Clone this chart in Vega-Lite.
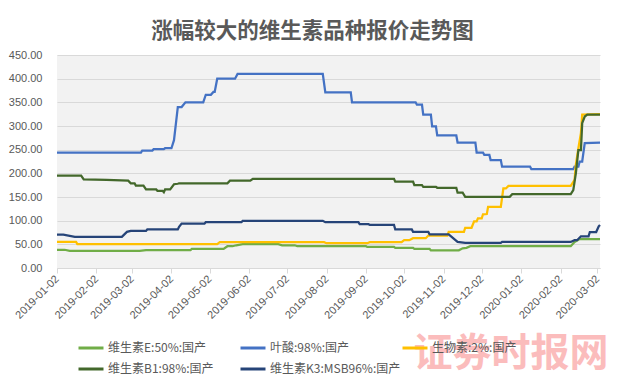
{
 "$schema": "https://vega.github.io/schema/vega-lite/v6.json",
 "width": 543, "height": 213,
 "autosize": "none",
 "padding": {"left": 57, "top": 55, "right": 25, "bottom": 119},
 "background": "white",
 "title": {"text": "涨幅较大的维生素品种报价走势图", "font": "Noto Sans CJK SC", "fontSize": 21.5, "fontWeight": "bold", "color": "#595959", "anchor": "middle", "frame": "group", "dx": -16, "offset": 7},
 "datasets": {
  "E": [
   {"d":"2019-01-02","v":38.5},{"d":"2019-01-08","v":38.5},{"d":"2019-01-12","v":36},{"d":"2019-03-08","v":36},{"d":"2019-03-13","v":38},{"d":"2019-04-17","v":38},{"d":"2019-04-18","v":40.3},{"d":"2019-05-13","v":40.3},{"d":"2019-05-16","v":46},{"d":"2019-05-20","v":46},{"d":"2019-05-23","v":48},{"d":"2019-05-28","v":50.5},{"d":"2019-06-25","v":50.5},{"d":"2019-06-28","v":48},{"d":"2019-07-08","v":48},{"d":"2019-07-10","v":46},{"d":"2019-09-02","v":46},{"d":"2019-09-03","v":44.5},{"d":"2019-09-24","v":44.5},{"d":"2019-09-25","v":42.4},{"d":"2019-10-09","v":42.4},{"d":"2019-10-10","v":40.3},{"d":"2019-10-22","v":40.3},{"d":"2019-10-23","v":37.5},{"d":"2019-11-14","v":37.5},{"d":"2019-11-17","v":41.5},{"d":"2019-11-20","v":42.5},{"d":"2019-11-23","v":46},{"d":"2020-02-10","v":46},{"d":"2020-02-13","v":55},{"d":"2020-02-17","v":61},{"d":"2020-03-04","v":61}
  ],
  "FA": [
   {"d":"2019-01-02","v":244},{"d":"2019-03-09","v":244},{"d":"2019-03-10","v":248},{"d":"2019-03-18","v":248},{"d":"2019-03-19","v":251},{"d":"2019-03-27","v":251},{"d":"2019-03-28","v":253},{"d":"2019-04-02","v":253},{"d":"2019-04-04","v":270},{"d":"2019-04-07","v":340},{"d":"2019-04-10","v":340},{"d":"2019-04-13","v":350},{"d":"2019-04-27","v":350},{"d":"2019-04-29","v":366},{"d":"2019-05-03","v":366},{"d":"2019-05-05","v":372},{"d":"2019-05-06","v":372},{"d":"2019-05-08","v":400},{"d":"2019-05-22","v":400},{"d":"2019-05-24","v":410},{"d":"2019-07-30","v":410},{"d":"2019-08-01","v":371},{"d":"2019-08-21","v":371},{"d":"2019-08-22","v":350},{"d":"2019-10-11","v":350},{"d":"2019-10-12","v":345},{"d":"2019-10-16","v":345},{"d":"2019-10-17","v":324},{"d":"2019-10-23","v":324},{"d":"2019-10-24","v":299},{"d":"2019-10-27","v":299},{"d":"2019-10-28","v":280},{"d":"2019-11-12","v":280},{"d":"2019-11-13","v":265},{"d":"2019-11-27","v":265},{"d":"2019-11-28","v":244},{"d":"2019-12-03","v":244},{"d":"2019-12-04","v":239},{"d":"2019-12-08","v":239},{"d":"2019-12-09","v":228},{"d":"2019-12-17","v":228},{"d":"2019-12-18","v":214},{"d":"2020-01-09","v":214},{"d":"2020-01-10","v":209},{"d":"2020-02-12","v":209},{"d":"2020-02-13","v":214},{"d":"2020-02-16","v":214},{"d":"2020-02-17","v":225},{"d":"2020-02-19","v":225},{"d":"2020-02-21","v":264},{"d":"2020-03-04","v":265}
  ],
  "BT": [
   {"d":"2019-01-02","v":55},{"d":"2019-01-17","v":55},{"d":"2019-01-18","v":50.5},{"d":"2019-05-08","v":50.5},{"d":"2019-05-10","v":54.5},{"d":"2019-07-31","v":54.5},{"d":"2019-08-02","v":52.3},{"d":"2019-09-03","v":52.3},{"d":"2019-09-05","v":54.5},{"d":"2019-09-30","v":54.5},{"d":"2019-10-02","v":58.7},{"d":"2019-10-06","v":58.7},{"d":"2019-10-09","v":63},{"d":"2019-10-19","v":63},{"d":"2019-10-21","v":68.5},{"d":"2019-11-05","v":68.5},{"d":"2019-11-06","v":76.3},{"d":"2019-11-18","v":76.3},{"d":"2019-11-19","v":85},{"d":"2019-11-24","v":85},{"d":"2019-11-26","v":98.5},{"d":"2019-11-28","v":98.5},{"d":"2019-11-29","v":105},{"d":"2019-12-02","v":105},{"d":"2019-12-03","v":113.5},{"d":"2019-12-06","v":114},{"d":"2019-12-07","v":129.3},{"d":"2019-12-17","v":129.3},{"d":"2019-12-19","v":168},{"d":"2019-12-21","v":168},{"d":"2019-12-23","v":173.5},{"d":"2020-02-10","v":173.5},{"d":"2020-02-13","v":186},{"d":"2020-02-14","v":218},{"d":"2020-02-16","v":253},{"d":"2020-02-18","v":285},{"d":"2020-02-19","v":324},{"d":"2020-03-04","v":325}
  ],
  "B1": [
   {"d":"2019-01-02","v":195},{"d":"2019-01-21","v":195},{"d":"2019-01-23","v":187},{"d":"2019-02-10","v":186},{"d":"2019-02-27","v":184.5},{"d":"2019-03-01","v":179},{"d":"2019-03-04","v":179},{"d":"2019-03-05","v":174},{"d":"2019-03-11","v":174},{"d":"2019-03-13","v":166},{"d":"2019-03-21","v":166},{"d":"2019-03-22","v":163},{"d":"2019-03-26","v":163},{"d":"2019-03-27","v":160},{"d":"2019-03-28","v":166},{"d":"2019-04-01","v":166},{"d":"2019-04-04","v":177},{"d":"2019-04-07","v":178},{"d":"2019-04-08","v":179},{"d":"2019-05-16","v":179},{"d":"2019-05-18","v":184.5},{"d":"2019-06-03","v":184.5},{"d":"2019-06-05","v":188.5},{"d":"2019-09-24","v":188.5},{"d":"2019-09-25","v":182.5},{"d":"2019-10-09","v":182.5},{"d":"2019-10-10","v":175},{"d":"2019-10-16","v":175},{"d":"2019-10-17","v":171.5},{"d":"2019-10-27","v":171.5},{"d":"2019-10-28","v":169.5},{"d":"2019-11-12","v":169.5},{"d":"2019-11-13","v":159},{"d":"2019-11-17","v":159},{"d":"2019-11-19","v":150.5},{"d":"2019-12-24","v":150.5},{"d":"2019-12-26","v":156},{"d":"2020-02-10","v":156},{"d":"2020-02-12","v":164.5},{"d":"2020-02-14","v":200},{"d":"2020-02-16","v":249},{"d":"2020-02-18","v":249},{"d":"2020-02-19","v":306},{"d":"2020-02-21","v":320},{"d":"2020-02-23","v":324},{"d":"2020-03-04","v":324}
  ],
  "K3": [
   {"d":"2019-01-02","v":70.7},{"d":"2019-01-07","v":70.7},{"d":"2019-01-16","v":65.8},{"d":"2019-02-22","v":65.8},{"d":"2019-02-26","v":76.3},{"d":"2019-03-01","v":78.4},{"d":"2019-03-13","v":78.4},{"d":"2019-03-14","v":81.4},{"d":"2019-04-07","v":81.4},{"d":"2019-04-08","v":87},{"d":"2019-04-10","v":94},{"d":"2019-04-28","v":94},{"d":"2019-04-29","v":96.8},{"d":"2019-05-27","v":96.8},{"d":"2019-05-28","v":99.6},{"d":"2019-07-30","v":99.6},{"d":"2019-08-01","v":96.8},{"d":"2019-08-27","v":96.8},{"d":"2019-08-28","v":92.6},{"d":"2019-09-04","v":92.6},{"d":"2019-09-05","v":91},{"d":"2019-09-24","v":91},{"d":"2019-09-25","v":81.4},{"d":"2019-10-08","v":81.4},{"d":"2019-10-09","v":76.3},{"d":"2019-10-21","v":76.3},{"d":"2019-10-22","v":71},{"d":"2019-11-06","v":71},{"d":"2019-11-13","v":55},{"d":"2019-11-19","v":53},{"d":"2019-12-17","v":53},{"d":"2019-12-18","v":55},{"d":"2020-02-10","v":55},{"d":"2020-02-13","v":58.7},{"d":"2020-02-15","v":58.7},{"d":"2020-02-18","v":67},{"d":"2020-02-24","v":67},{"d":"2020-02-25","v":76},{"d":"2020-03-01","v":76},{"d":"2020-03-03","v":88},{"d":"2020-03-04","v":91}
  ]
 },
 "layer": [
  {"data": {"name": "E"}, "transform": [{"calculate": "'维生素E:50%:国产'", "as": "s"}], "mark": {"type": "line", "strokeWidth": 2.25}},
  {"data": {"name": "FA"}, "transform": [{"calculate": "'叶酸:98%:国产'", "as": "s"}], "mark": {"type": "line", "strokeWidth": 2.25}},
  {"data": {"name": "BT"}, "transform": [{"calculate": "'生物素:2%:国产'", "as": "s"}], "mark": {"type": "line", "strokeWidth": 2.25}},
  {"data": {"name": "B1"}, "transform": [{"calculate": "'维生素B1:98%:国产'", "as": "s"}], "mark": {"type": "line", "strokeWidth": 2.25}},
  {"data": {"name": "K3"}, "transform": [{"calculate": "'维生素K3:MSB96%:国产'", "as": "s"}], "mark": {"type": "line", "strokeWidth": 2.25}}
 ],
 "encoding": {
  "x": {"field": "d", "type": "temporal",
   "scale": {"type": "utc", "domain": [{"year": 2019, "month": 1, "date": 2, "utc": true}, {"year": 2020, "month": 3, "date": 4, "utc": true}]},
   "axis": {"values": [
     {"year": 2019, "month": 1, "date": 2, "utc": true},{"year": 2019, "month": 2, "date": 2, "utc": true},{"year": 2019, "month": 3, "date": 2, "utc": true},{"year": 2019, "month": 4, "date": 2, "utc": true},{"year": 2019, "month": 5, "date": 2, "utc": true},{"year": 2019, "month": 6, "date": 2, "utc": true},{"year": 2019, "month": 7, "date": 2, "utc": true},{"year": 2019, "month": 8, "date": 2, "utc": true},{"year": 2019, "month": 9, "date": 2, "utc": true},{"year": 2019, "month": 10, "date": 2, "utc": true},{"year": 2019, "month": 11, "date": 2, "utc": true},{"year": 2019, "month": 12, "date": 2, "utc": true},{"year": 2020, "month": 1, "date": 2, "utc": true},{"year": 2020, "month": 2, "date": 2, "utc": true},{"year": 2020, "month": 3, "date": 2, "utc": true}],
    "format": "%Y-%m-%d", "labelAngle": -45, "labelAlign": "right", "labelBaseline": "middle", "labelPadding": 4,
    "labelFont": "Liberation Sans", "labelFontSize": 11, "labelColor": "#595959", "labelOverlap": false,
    "grid": false, "domainColor": "#d9d9d9", "tickColor": "#d9d9d9", "tickSize": 5,
    "title": "证券时报网", "titleFont": "Noto Sans CJK SC", "titleFontSize": 39, "titleFontWeight": "bold", "titleColor": "#fbbcbc",
    "titleAnchor": "end", "titleAlign": "right", "titleBaseline": "alphabetic", "titleX": 551, "titleY": 97}},
  "y": {"field": "v", "type": "quantitative",
   "scale": {"domain": [0, 450]},
   "axis": {"values": [0, 50, 100, 150, 200, 250, 300, 350, 400, 450], "format": ".2f", "domain": false, "ticks": false,
    "grid": true, "gridColor": "#d9d9d9", "labelPadding": 15, "labelFont": "Liberation Sans", "labelFontSize": 11, "labelColor": "#595959", "title": null}},
  "color": {"field": "s", "type": "nominal",
   "scale": {"domain": ["维生素E:50%:国产", "叶酸:98%:国产", "生物素:2%:国产", "维生素B1:98%:国产", "维生素K3:MSB96%:国产"],
    "range": ["#70AD47", "#4472C4", "#FFC000", "#43682B", "#264478"]},
   "legend": {"orient": "none", "legendX": 20, "legendY": 279, "direction": "horizontal", "columns": 3, "title": null,
    "symbolType": "stroke", "symbolSize": 625, "symbolStrokeWidth": 3, "labelFont": "Noto Sans CJK SC", "labelFontSize": 12,
    "labelColor": "#595959", "gridAlign": "all", "columnPadding": -12, "rowPadding": 1, "labelOffset": 3, "padding": 0}}
 },
 "config": {"view": {"fill": "#f2f2f2", "stroke": null}}
}
